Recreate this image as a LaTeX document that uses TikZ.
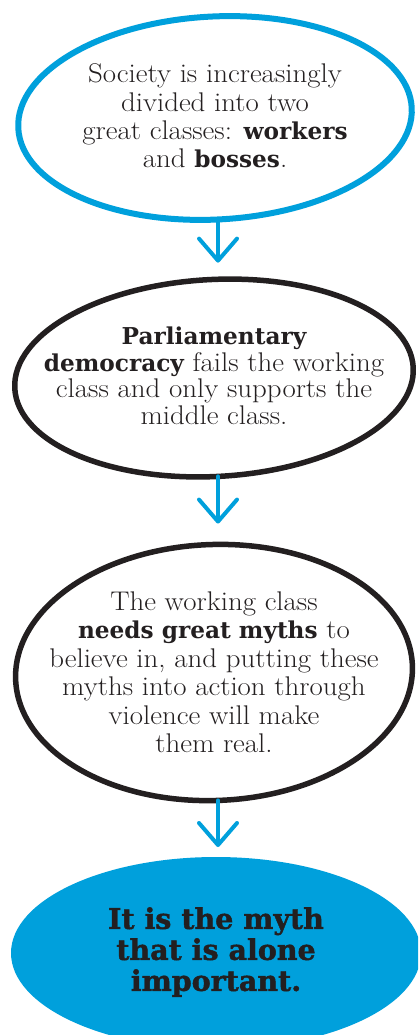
\documentclass[tikz,border=0pt]{standalone}
\usepackage{fontspec}
\usetikzlibrary{shapes.geometric,arrows.meta}
\setmainfont{Latin Modern Roman}[FakeStretch=1.07]
\newfontfamily\slab{DejaVu Serif}[Scale=0.86]
\newfontfamily\slabbig{DejaVu Serif}[BoldFeatures={FakeBold=1.5}]
\definecolor{myblue}{RGB}{0,160,220}
\definecolor{ink}{RGB}{35,31,32}
\newcommand\hb[1]{{\slab\bfseries #1}}
\tikzset{
  ell/.style={ellipse, inner sep=0pt, outer sep=0pt},
  blueell/.style={ell, draw=myblue, line width=6pt},
  blackell/.style={ell, draw=ink, line width=5.5pt},
  fillell/.style={ell, fill=myblue, draw=none},
  txt/.style={align=center, inner sep=0pt, text=ink, font=\fontsize{27}{28.3}\selectfont},
  arr/.style={draw=myblue, line width=4pt, line cap=round,
    -{Straight Barb[length=22pt,width=38pt,line cap=round,line join=round]}},
}
\begin{document}
\begin{tikzpicture}[x=1pt,y=-1pt]
\useasboundingbox (0,0) rectangle (418,1035);
\clip (0,0) rectangle (418,1035);
\fill[white] (0,0) rectangle (418,1035);
\coordinate (ax) at (218,0);
\node[blueell, minimum width=394pt, minimum height=203pt, rotate=3] (e1) at (215,118) {};
\node[blackell, minimum width=399pt, minimum height=197pt, rotate=3] (e2) at (214,378) {};
\node[blackell, minimum width=397pt, minimum height=256pt, rotate=2] (e3) at (214,672.5) {};
\node[fillell, minimum width=410pt, minimum height=192pt] (e4) at (216,953) {};
\node[txt] (t1) at (215,116) {Society is increasingly\\divided into two\\great classes: \hb{workers}\\and \hb{bosses}.};
\node[txt, font=\fontsize{27}{26.5}\selectfont] (t2) at (214,376) {\hb{Parliamentary}\\\hb{democracy} fails the working\\class and only supports the\\middle class.};
\node[txt, font=\fontsize{27}{28.5}\selectfont] (t3) at (214,672) {The working class\\\hb{needs great myths} to\\believe in, and putting these\\myths into action through\\violence will make\\them real.};
\node[txt, font=\slabbig\bfseries\fontsize{28.5}{31}\selectfont] (t4) at (216,952) {It is the myth\\that is alone\\important.};
\draw[arr, shorten >=17pt] (e1.south -| ax) -- (e2.north -| ax);
\draw[arr, shorten >=21pt] (e2.south -| ax) -- (e3.north -| ax);
\draw[arr, shorten >=10pt] (e3.south -| ax) -- (e4.north -| ax);
\end{tikzpicture}
\end{document}
